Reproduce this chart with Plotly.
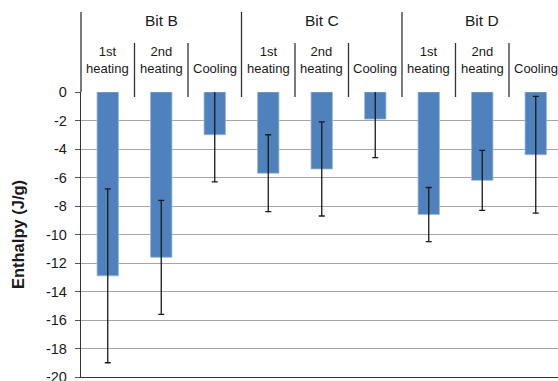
import plotly.graph_objects as go

# Enthalpy of each thermal step, grouped by bit
groups = ["Bit B", "Bit C", "Bit D"]
phases = ["1st<br>heating", "2nd<br>heating", "Cooling"]
enthalpy = [-12.9, -11.6, -3.0, -5.7, -5.4, -1.9, -8.6, -6.2, -4.4]
enthalpy_err = [6.1, 4.0, 3.3, 2.7, 3.3, 2.7, 1.9, 2.1, 4.1]
y_ticks = list(range(-20, 1, 2))

n_cat = len(groups) * len(phases)
xs = list(range(n_cat))

FONT = "Liberation Sans, Arial, sans-serif"
INK = "#1a1a1a"

# pixel geometry of the frame (figure is 558 x 381)
W, H = 558, 381
M_L, M_R, M_T, M_B = 81, 0, 92, 4
CAT_PX = 53.5
plot_w = W - M_L - M_R
plot_h = H - M_T - M_B
x_max = -0.5 + plot_w / CAT_PX


def py(p):
    """Convert a pixel row to paper y coordinate."""
    return (H - M_B - p) / plot_h


fig = go.Figure(
    go.Bar(
        x=xs,
        y=enthalpy,
        width=0.4,
        marker=dict(color="#4F81BD", line=dict(color="#9DB7DB", width=0.8)),
        error_y=dict(type="data", array=enthalpy_err, symmetric=True,
                     color=INK, thickness=1.3, width=3),
        showlegend=False,
    )
)

shapes = []
annotations = []
# left axis extends up through the header
shapes.append(dict(type="line", xref="paper", yref="paper", x0=0, x1=0,
                   y0=1, y1=py(12), line=dict(color="#333", width=1.3)))
for g, name in enumerate(groups):
    base = g * len(phases)
    if g > 0:
        shapes.append(dict(type="line", xref="x", yref="paper",
                           x0=base - 0.5, x1=base - 0.5, y0=py(97), y1=py(12),
                           line=dict(color="#333", width=1.3)))
    annotations.append(dict(text=name, xref="x", yref="paper",
                            x=base + (len(phases) - 1) / 2, y=py(21),
                            showarrow=False, yanchor="middle",
                            font=dict(size=15.5, color=INK, family=FONT)))
    for k, ph in enumerate(phases):
        i = base + k
        if k > 0:
            shapes.append(dict(type="line", xref="x", yref="paper",
                               x0=i - 0.5, x1=i - 0.5, y0=py(97), y1=py(43),
                               line=dict(color="#333", width=1.3)))
        annotations.append(dict(text=ph, xref="x", yref="paper", x=i,
                                y=py(78), showarrow=False, yanchor="bottom",
                                font=dict(size=13, color=INK, family=FONT)))
# trailing separator after the last column
shapes.append(dict(type="line", xref="x", yref="paper",
                   x0=n_cat - 0.5, x1=n_cat - 0.5, y0=py(97), y1=py(43),
                   line=dict(color="#333", width=1.3)))

fig.update_layout(
    width=W, height=H,
    margin=dict(l=M_L, r=M_R, t=M_T, b=M_B, pad=0, autoexpand=False),
    paper_bgcolor="white", plot_bgcolor="white",
    font=dict(family=FONT, color=INK),
    shapes=shapes,
    annotations=annotations,
    xaxis=dict(range=[-0.5, x_max], showticklabels=False, ticks="",
               showgrid=False, zeroline=False, showline=True,
               linecolor="#333", linewidth=1.3, fixedrange=True,
               automargin=False),
    yaxis=dict(range=[-20, 0], tickvals=y_ticks, ticktext=[str(v) for v in y_ticks],
               showgrid=True, gridcolor="#a6a6a6", gridwidth=1.3,
               zeroline=False, showline=True, linecolor="#333", linewidth=1.3,
               ticks="outside", ticklen=5, tickcolor="#555", tickwidth=1.2,
               ticklabelstandoff=5, ticklabeloverflow="allow",
               tickfont=dict(size=14.5, color=INK, family=FONT),
               title=dict(text="<b>Enthalpy (J/g)</b>", standoff=17,
                          font=dict(size=16.5, color=INK, family=FONT)),
               fixedrange=True, automargin=False),
)

fig.write_html("out.html")
